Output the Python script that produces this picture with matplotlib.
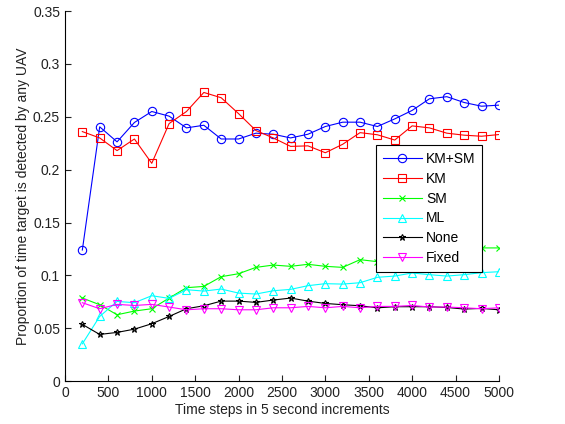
import matplotlib
matplotlib.use("Agg")
import matplotlib.pyplot as plt

plt.rcParams['font.family'] = ['Liberation Sans', 'DejaVu Sans']

steps = list(range(200, 5001, 200))

km_sm = [0.124, 0.2405, 0.2263, 0.2446, 0.255, 0.2506, 0.2395, 0.242, 0.229, 0.229,
         0.2345, 0.2335, 0.230, 0.2335, 0.2408, 0.2449, 0.2449, 0.2408, 0.248, 0.256,
         0.267, 0.269, 0.2635, 0.260, 0.261]
km = [0.236, 0.230, 0.218, 0.229, 0.206, 0.2436, 0.255, 0.273, 0.268, 0.253,
      0.237, 0.230, 0.222, 0.2225, 0.216, 0.224, 0.235, 0.233, 0.228, 0.2414,
      0.2395, 0.2345, 0.2326, 0.2316, 0.2332]
sm = [0.0786, 0.0723, 0.0628, 0.0663, 0.0685, 0.0786, 0.0884, 0.0896, 0.0988, 0.1016,
      0.1076, 0.1098, 0.1086, 0.1105, 0.1086, 0.1076, 0.1149, 0.113, 0.114, 0.117,
      0.120, 0.122, 0.124, 0.126, 0.126]
ml = [0.0353, 0.0612, 0.0754, 0.0742, 0.0808, 0.0783, 0.0865, 0.0852, 0.0871, 0.0833,
      0.0824, 0.0855, 0.0868, 0.0903, 0.0922, 0.0918, 0.0931, 0.0982, 0.0994, 0.1023,
      0.1007, 0.0994, 0.1007, 0.1026, 0.1035]
none = [0.0537, 0.0442, 0.0461, 0.0492, 0.0543, 0.0612, 0.0685, 0.0713, 0.0757, 0.0757,
        0.0745, 0.0767, 0.0786, 0.0757, 0.0735, 0.0723, 0.0713, 0.0694, 0.0704, 0.0704,
        0.0704, 0.0697, 0.0682, 0.0688, 0.0675]
fixed = [0.0742, 0.0685, 0.0726, 0.0716, 0.0726, 0.0701, 0.0675, 0.0685, 0.0685, 0.0675,
         0.0675, 0.0694, 0.0694, 0.0707, 0.0694, 0.0707, 0.0694, 0.0707, 0.0707, 0.0716,
         0.0701, 0.0701, 0.0694, 0.0685, 0.0694]

series = [
    ("KM+SM", km_sm, "#0000ff", "o"),
    ("KM", km, "#ff0000", "s"),
    ("SM", sm, "#00ff00", "x"),
    ("ML", ml, "#00ffff", "^"),
    ("None", none, "#000000", "*"),
    ("Fixed", fixed, "#ff00ff", "v"),
]

xticks = list(range(0, 5001, 500))
yticks = [0, 0.05, 0.1, 0.15, 0.2, 0.25, 0.3, 0.35]
yticklabels = ["0", "0.05", "0.1", "0.15", "0.2", "0.25", "0.3", "0.35"]

fig = plt.figure(figsize=(5.65, 4.24), dpi=100)
ax = fig.add_axes([0.115, 0.101, 0.768, 0.873])

for label, vals, color, marker in series:
    ms = 6 if marker in ("o", "s", "^", "v") else 5
    ax.plot(steps, vals, color=color, marker=marker, markerfacecolor='none',
            markeredgecolor=color, markersize=ms, linewidth=0.8, markeredgewidth=0.8,
            label=label)

ax.set_xlim(0, 5000)
ax.set_ylim(0, 0.35)
ax.set_xticks(xticks)
ax.set_xticklabels([str(t) for t in xticks])
ax.set_yticks(yticks)
ax.set_yticklabels(yticklabels)
ax.tick_params(direction='in', labelsize=10, colors='#222222', length=4)
ax.spines['top'].set_visible(False)
ax.spines['right'].set_visible(False)
ax.set_xlabel("Time steps in 5 second increments", fontsize=10, color='#222222', labelpad=2)
ax.set_ylabel("Proportion of time target is detected by any UAV", fontsize=10,
              color='#222222', labelpad=2)

leg = ax.legend(loc='upper left', bbox_to_anchor=(376 / 565, 1 - 145 / 424),
                bbox_transform=fig.transFigure, fancybox=False, shadow=False,
                edgecolor='black', framealpha=1, fontsize=10, handlelength=2.8,
                labelspacing=0.42, borderaxespad=0, handletextpad=0.3, borderpad=0.5)
leg.get_frame().set_linewidth(0.8)

fig.savefig("out.png", dpi=100)
